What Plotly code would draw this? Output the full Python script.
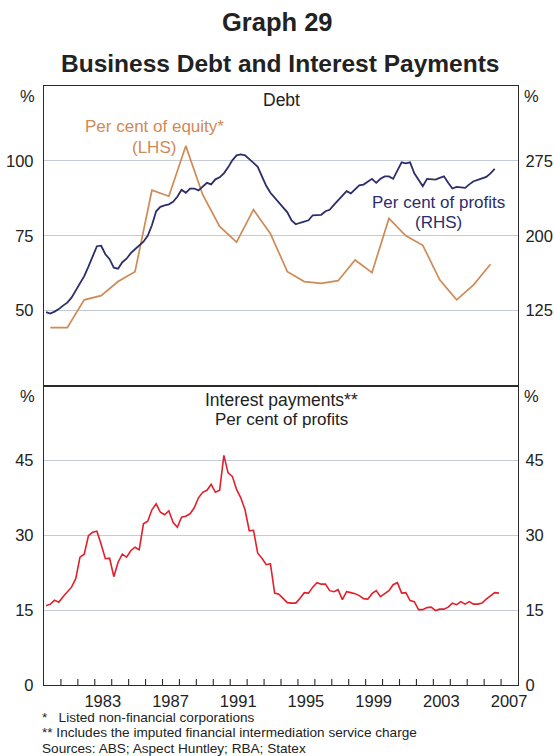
import plotly.graph_objects as go

# ---------------- data ----------------
# Quarterly series start in 1980 Q1
start_year = 1980
end_year = 2008

# Business debt, per cent of profits (RHS), quarterly 1980Q1 - 2006Q3
debt_profits = [
    123.5, 122.0, 124.0, 126.5, 130.0, 133.0, 138.0, 145.0, 153.0, 159.5,
    169.0, 180.0, 189.5, 190.0, 181.5, 176.5, 168.0, 167.0, 173.5, 177.0,
    182.5, 186.5, 190.0, 194.0, 200.0, 210.5, 224.5, 229.0, 230.5, 231.5,
    234.0, 239.0, 246.0, 243.0, 247.3, 247.3, 245.5, 249.0, 253.0, 251.5,
    256.5, 258.5, 262.5, 268.5, 275.5, 280.5, 281.5, 280.5, 277.0, 273.0,
    269.0, 259.5, 250.0, 243.0, 238.0, 234.0, 229.0, 223.5, 215.3, 211.5,
    213.0, 214.5, 215.5, 220.5, 220.5, 221.0, 224.6, 226.0, 231.0, 235.5,
    240.0, 244.6, 242.5, 247.0, 250.5, 251.3, 254.5, 257.0, 253.0, 257.0,
    259.5, 259.5, 257.0, 265.5, 273.5, 272.5, 273.5, 262.5, 256.0, 249.6,
    257.0, 256.5, 256.3, 258.0, 259.5, 253.0, 247.3, 249.0, 248.5, 248.0,
    251.5, 254.6, 256.0, 257.5, 259.0, 262.5, 267.0,
]

# Interest payments, per cent of profits, quarterly 1980Q1 - 2006Q4
interest_profits = [
    15.9, 16.2, 17.0, 16.6, 17.7, 18.6, 19.6, 21.3, 25.6, 26.2,
    29.9, 30.6, 30.8, 28.2, 25.3, 25.4, 21.7, 24.6, 26.2, 25.6,
    26.9, 27.6, 27.1, 32.3, 32.8, 35.1, 36.3, 34.6, 34.1, 34.9,
    32.6, 31.6, 33.6, 33.8, 34.3, 35.5, 37.5, 38.6, 39.0, 40.2,
    38.6, 39.0, 46.0, 42.5, 41.8, 39.2, 37.5, 35.1, 30.9, 31.0,
    26.4, 25.4, 24.1, 24.3, 18.4, 18.2, 17.4, 16.5, 16.4, 16.4,
    17.4, 18.5, 18.4, 19.6, 20.5, 20.2, 20.2, 18.9, 18.7, 19.1,
    17.1, 18.7, 18.5, 18.3, 17.9, 17.3, 17.2, 18.3, 18.9, 17.7,
    18.3, 18.9, 20.1, 20.5, 18.4, 18.5, 16.9, 16.7, 15.1, 15.1,
    15.5, 15.6, 14.9, 15.2, 15.2, 15.6, 16.4, 16.1, 16.7, 16.2,
    16.7, 16.2, 16.2, 16.4, 17.2, 17.9, 18.5, 18.4,
]

# Business debt, per cent of equity (LHS), annual (June) 1980 - 2006
equity_years = list(range(1980, 2007))
debt_equity = [
    44.3, 44.3, 53.6, 55.0, 59.7, 63.0, 90.2, 88.2, 105.0, 88.7,
    78.1, 72.9, 83.7, 75.7, 63.0, 59.7, 59.1, 60.0, 66.9, 62.7,
    80.8, 75.0, 71.8, 60.3, 53.6, 58.6, 65.5,
]

year_labels = ["1983", "1987", "1991", "1995", "1999", "2003", "2007"]
lhs_top_ticks = [50, 75, 100]
rhs_top_ticks = [125, 200, 275]
bottom_ticks = [0, 15, 30, 45]
bottom_range = [0, 60]

# x positions: quarter mid-points and June of each year
x_q_debt = [start_year + (i + 0.5) / 4 for i in range(len(debt_profits))]
x_q_int = [start_year + (i + 0.5) / 4 for i in range(len(interest_profits))]
x_equity = [y + 0.375 for y in equity_years]
year_ticks = list(range(start_year, end_year + 1))
year_ticktext = [str(y) if str(y) in year_labels else "" for y in year_ticks]

# ---------------- style ----------------
FONT = "Liberation Sans, Arial, sans-serif"
NAVY = "#2c2d6b"
ORANGE = "#d08a55"
RED = "#e0202b"
GRID = "#c3ccd6"
AXIS = "#2a2a2a"
TEXT = "#222222"

W, H = 554, 756
L, R, T, B = 44, 518, 86, 685
TICK_LEN = 5
# shift year labels by half a year so they sit in the middle of each year
HALF_YEAR_PX = int(round((R - L) / (end_year - start_year) / 2))
# pixels per unit of the bottom-panel y axis (panel is half the plot height)
BOTTOM_PX_PER_UNIT = ((B - T) / 2) / (bottom_range[1] - bottom_range[0])


def px(x):
    return (x - L) / (R - L)


def py(y):
    return (B - y) / (B - T)


fig = go.Figure()
fig.add_trace(go.Scatter(x=x_equity, y=debt_equity, xaxis="x2", yaxis="y",
                         mode="lines", line=dict(color=ORANGE, width=1.7),
                         hoverinfo="skip", showlegend=False))
fig.add_trace(go.Scatter(x=x_q_debt, y=debt_profits, xaxis="x2", yaxis="y2",
                         mode="lines", line=dict(color=NAVY, width=1.8),
                         hoverinfo="skip", showlegend=False))
fig.add_trace(go.Scatter(x=x_q_int, y=interest_profits, xaxis="x", yaxis="y3",
                         mode="lines", line=dict(color=RED, width=1.6),
                         hoverinfo="skip", showlegend=False))
# yearly tick marks standing on the bottom axis
fig.add_trace(go.Scatter(
    x=year_ticks[1:-1],
    y=[bottom_range[0] + TICK_LEN / 2 / BOTTOM_PX_PER_UNIT] * (len(year_ticks) - 2),
    xaxis="x", yaxis="y3", mode="markers", cliponaxis=False,
    marker=dict(symbol="line-ns", size=TICK_LEN,
                line=dict(color=AXIS, width=1.1)),
    hoverinfo="skip", showlegend=False))
# empty trace so the right-hand bottom axis is drawn
fig.add_trace(go.Scatter(x=[None], y=[None], xaxis="x", yaxis="y4",
                         showlegend=False, hoverinfo="skip"))

tickfont = dict(family=FONT, size=16.5, color=TEXT)
common_y = dict(showline=True, linecolor=AXIS, linewidth=1.3, zeroline=False,
                ticks="", tickfont=tickfont,
                automargin=False, fixedrange=True)

fig.update_layout(
    template="none",
    width=W, height=H, autosize=False,
    margin=dict(l=L, r=W - R, t=T, b=H - B, pad=0),
    paper_bgcolor="white", plot_bgcolor="white",
    showlegend=False,
    xaxis=dict(domain=[0, 1], anchor="y3", range=[start_year, end_year],
               tickmode="array", tickvals=year_ticks, ticktext=year_ticktext,
               ticks="", tickfont=tickfont, ticklabelshift=HALF_YEAR_PX,
               ticklabelstandoff=1,
               showgrid=False, zeroline=False, automargin=False,
               showline=True, linecolor=AXIS, linewidth=1.3, mirror=True,
               fixedrange=True),
    xaxis2=dict(domain=[0, 1], anchor="y", range=[start_year, end_year],
                showticklabels=False, ticks="", showgrid=False, zeroline=False,
                automargin=False, fixedrange=True,
                showline=True, linecolor=AXIS, linewidth=1.3, mirror=True),
    yaxis=dict(domain=[0.5, 1], anchor="x2", range=[25, 125],
               tickmode="array", tickvals=lhs_top_ticks, ticklabelstandoff=6,
               showgrid=True, gridcolor=GRID, gridwidth=1.2, side="left",
               **common_y),
    yaxis2=dict(overlaying="y", anchor="x2", side="right", range=[50, 350],
                tickmode="array", tickvals=rhs_top_ticks, showgrid=False,
                ticklabelstandoff=3, **common_y),
    yaxis3=dict(domain=[0, 0.5], anchor="x", range=bottom_range,
                tickmode="array", tickvals=bottom_ticks, ticklabelstandoff=6,
                showgrid=True, gridcolor=GRID, gridwidth=1.2, side="left",
                **common_y),
    yaxis4=dict(overlaying="y3", anchor="x", side="right", range=bottom_range,
                tickmode="array", tickvals=bottom_ticks, showgrid=False,
                ticklabelstandoff=3, **common_y),
)

ann = []


def add_text(text, x, y, size, color=TEXT, bold=False, xanchor="center"):
    t = f"<b>{text}</b>" if bold else text
    ann.append(dict(text=t, x=px(x), y=py(y), xref="paper", yref="paper",
                    xanchor=xanchor, yanchor="middle", showarrow=False,
                    font=dict(family=FONT, size=size, color=color)))


add_text("Graph 29", 277, 22, 25.5, bold=True)
add_text("Business Debt and Interest Payments", 280, 64, 24.5, bold=True)
add_text("%", 27, 96, 16.5)
add_text("%", 531, 96, 16.5)
add_text("%", 27, 396, 16.5)
add_text("%", 531, 396, 16.5)
add_text("Debt", 281, 100, 17.5)
add_text("Per cent of equity*", 154, 127, 17, color=ORANGE)
add_text("(LHS)", 154, 147, 17, color=ORANGE)
add_text("Per cent of profits", 438, 202, 17, color=NAVY)
add_text("(RHS)", 438, 222, 17, color=NAVY)
add_text("Interest payments**", 281, 400, 17.5)
add_text("Per cent of profits", 281, 419, 17)
add_text("*\u00a0\u00a0 Listed non-financial corporations", 40, 717, 13.6, xanchor="left")
add_text("** Includes the imputed financial intermediation service charge", 40, 733, 13.6, xanchor="left")
add_text("Sources: ABS; Aspect Huntley; RBA; Statex", 40, 748, 13.6, xanchor="left")

fig.update_layout(annotations=ann)

fig.write_html(
    "out.html",
    config={"responsive": False, "displayModeBar": False},
    post_script="document.body.style.margin='0';document.body.style.overflow='hidden';",
)
